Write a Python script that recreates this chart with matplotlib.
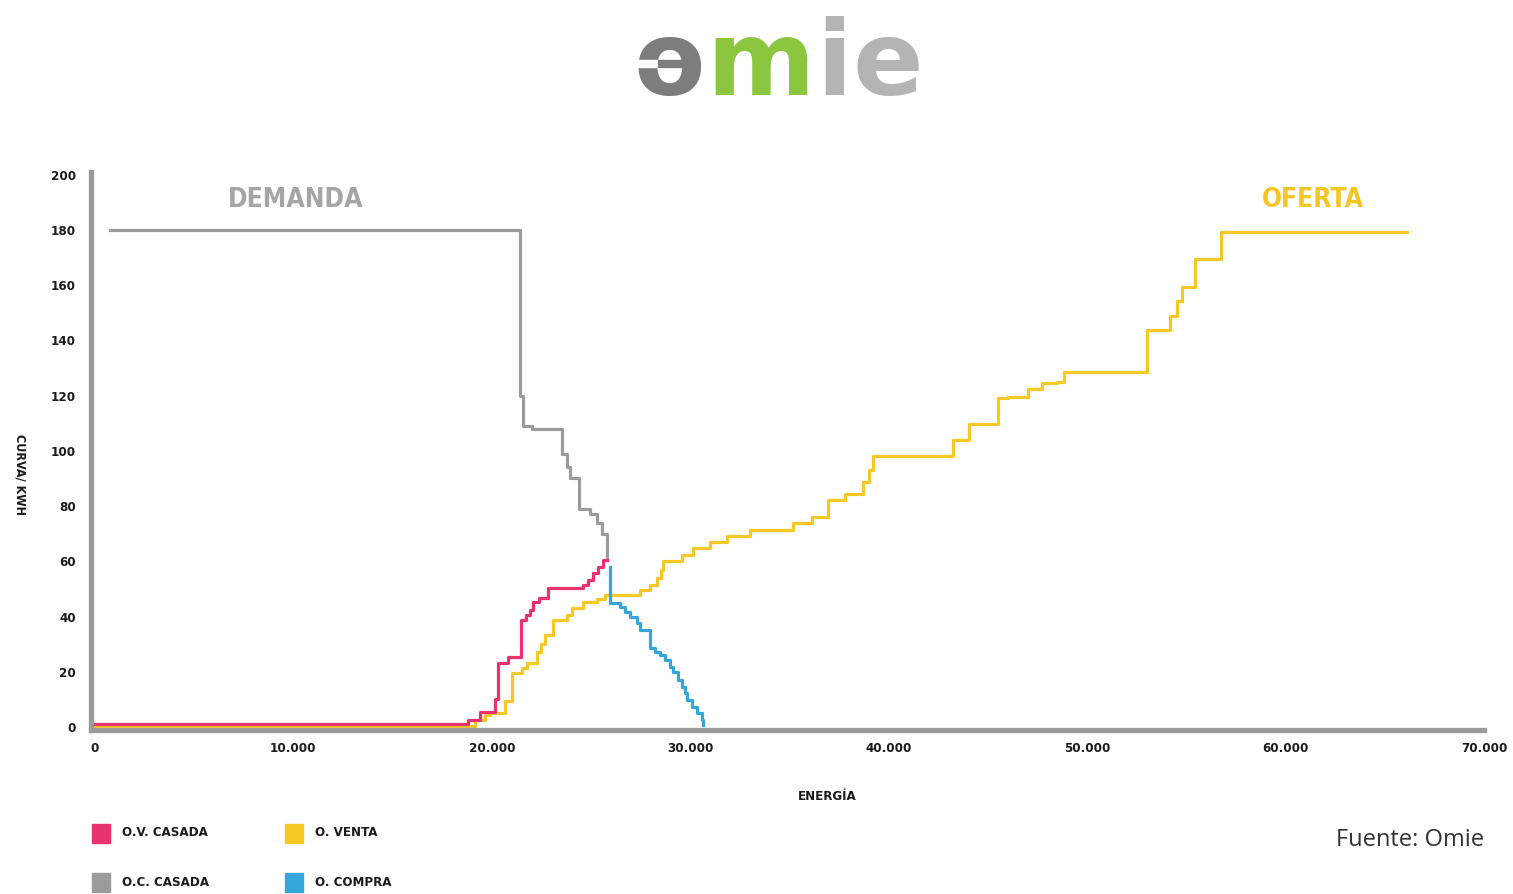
import matplotlib
matplotlib.use('Agg')
import matplotlib.pyplot as plt
from matplotlib.patches import Rectangle

# curve data (energy in MWh, price in EUR)
# every curve is a staircase: at energy[i] the price jumps to price[i]
ov_casada_energy = [0, 18800, 19400, 20160, 20330, 20800, 21470, 21720, 21920,
                    22090, 22390, 22850, 24610, 24850, 25100, 25350, 25600, 25790]
ov_casada_price = [1.0, 2.5, 5.4, 10, 23, 25.5, 38.8, 40.6, 42.4,
                   45.4, 46.7, 50.2, 51.4, 53.3, 55.7, 58, 60.5, 60.5]

oc_casada_energy = [750, 21420, 21555, 22000, 23520, 23790, 23940, 24410,
                    24950, 25290, 25540, 25790]
oc_casada_price = [180, 120, 109, 108, 99, 94, 90, 79, 77, 74, 70, 61]

venta_energy = [0, 19150, 19660, 19900, 20670, 21000, 21500, 21750, 22260,
                22500, 22700, 23100, 23770, 24020, 24610, 25290, 25700, 27470,
                27970, 28300, 28500, 28640, 29570, 30150, 31000, 31830, 33010,
                35200, 36120, 36960, 37800, 38720, 39000, 39230, 43260, 44070,
                45530, 46030, 47040, 47710, 48470, 48840, 53000, 54180, 54520,
                54770, 55440, 56730, 66140]
venta_price = [0.2, 2.5, 4.3, 5, 9.5, 19.4, 21.4, 23.2, 27,
               30, 33.3, 38.8, 40.6, 43, 45.4, 46.4, 47.8, 49.6,
               51.4, 54, 57, 60, 62.3, 64.7, 67.1, 69.2, 71.4,
               73.8, 76.2, 82.2, 84.3, 88.8, 93, 98, 104, 109.6,
               119, 119.6, 122.3, 124.5, 125.1, 128.5, 143.8, 149, 154.1,
               159.5, 169.4, 179.2, 179.2]

compra_energy = [25958, 25958, 26462, 26714, 26966, 27300, 27470, 27974,
                 28226, 28478, 28730, 28982, 29150, 29402, 29570, 29738,
                 29822, 30074, 30326, 30578, 30660]
compra_price = [58, 44.8, 43.4, 41.8, 40.0, 37.6, 35.1, 28.5,
                27.3, 26.1, 24.3, 21.8, 20.0, 17.0, 14.6, 12.2,
                9.8, 7.4, 5.0, 2.5, 0.7]

series_names = ['O.V. CASADA', 'O. VENTA', 'O.C. CASADA', 'O. COMPRA']
series_colors = ['#e8336f', '#f5c824', '#9b9b9b', '#35a6da']

x_ticks = [0, 10000, 20000, 30000, 40000, 50000, 60000, 70000]
x_tick_labels = ['0', '10.000', '20.000', '30.000', '40.000', '50.000',
                 '60.000', '70.000']
y_ticks = [0, 20, 40, 60, 80, 100, 120, 140, 160, 180, 200]

W, H = 1513, 894


def fx(px):
    return px / W


def fy(py):
    return 1 - py / H


fig = plt.figure(figsize=(W / 100, H / 100), dpi=100)
fig.patch.set_facecolor('white')

cond = dict(family='DejaVu Sans', stretch='condensed', weight='bold')

# logo "omie", one letter at a time
logo = dict(fontsize=75, family='DejaVu Sans', weight='bold', va='baseline')
fig.text(fx(634), fy(95), 'o', color='#7d7d7d', **logo)
fig.text(fx(706), fy(95), 'm', color='#8cc63e', **logo)
fig.text(fx(816), fy(95), 'i', color='#b4b4b4', **logo)
fig.text(fx(853), fy(95), 'e', color='#b4b4b4', **logo)
# the slot and bar inside the "o"
fig.add_artist(Rectangle((fx(632), fy(67)), fx(26), (fy(60) - fy(67)),
                         transform=fig.transFigure, color='white', zorder=5))
fig.add_artist(Rectangle((fx(658), fy(67)), fx(34), (fy(60) - fy(67)),
                         transform=fig.transFigure, color='#7d7d7d', zorder=5))

ax = fig.add_axes([fx(91), fy(730), fx(1484) - fx(91), fy(172) - fy(730)])

ax.step(venta_energy, venta_price, where='post', color=series_colors[1],
        lw=2.3, zorder=3)
ax.step(compra_energy, compra_price, where='post', color=series_colors[3],
        lw=2.3, zorder=3)
ax.step(oc_casada_energy, oc_casada_price, where='post', color=series_colors[2],
        lw=2.3, zorder=3)
ax.step(ov_casada_energy, ov_casada_price, where='post', color=series_colors[0],
        lw=2.3, zorder=4)

ax.set_xlim(-200, 70000)
ax.set_ylim(-1.1, 201)

for s in ['top', 'right']:
    ax.spines[s].set_visible(False)
for s in ['left', 'bottom']:
    ax.spines[s].set_color('#9a9a9a')
    ax.spines[s].set_linewidth(3.8)
    ax.spines[s].set_zorder(5)

ax.set_xticks(x_ticks)
ax.set_xticklabels(x_tick_labels, **cond)
ax.set_yticks(y_ticks)
ax.set_yticklabels([str(v) for v in y_ticks], **cond)
ax.tick_params(axis='both', length=0, labelsize=9.5, labelcolor='#1a1a1a')
ax.tick_params(axis='x', pad=9)
ax.tick_params(axis='y', pad=11)

ax.text(6700, 191, 'DEMANDA', color='#a5a5a5', fontsize=19,
        va='center', ha='left', **cond)
ax.text(58820, 191, 'OFERTA', color='#f3c623', fontsize=19,
        va='center', ha='left', **cond)

fig.text(fx(20), fy(475), 'CURVA/ KWH', rotation=-90, fontsize=9,
         ha='center', va='center', color='#1a1a1a', **cond)
fig.text(fx(827), fy(797), 'ENERGÍA', fontsize=9.5, ha='center',
         va='center', color='#1a1a1a', **cond)

# legend, two columns
leg_x = [92, 92, 285, 285]
leg_y = [833, 882, 833, 882]
leg_order = [0, 2, 1, 3]
for k, i in enumerate(leg_order):
    x0 = leg_x[k]
    y0 = leg_y[k]
    fig.add_artist(Rectangle((fx(x0), fy(y0 + 9.5)), fx(18), fy(y0 - 9.5) - fy(y0 + 9.5),
                             transform=fig.transFigure, color=series_colors[i]))
    fig.text(fx(x0 + 30), fy(y0), series_names[i], fontsize=9.5,
             ha='left', va='center', color='#1a1a1a', **cond)

fig.text(fx(1484), fy(840), 'Fuente: Omie', fontsize=17, ha='right',
         va='center', color='#333333', family='Open Sans')

fig.savefig('out.png', dpi=100, facecolor='white')
